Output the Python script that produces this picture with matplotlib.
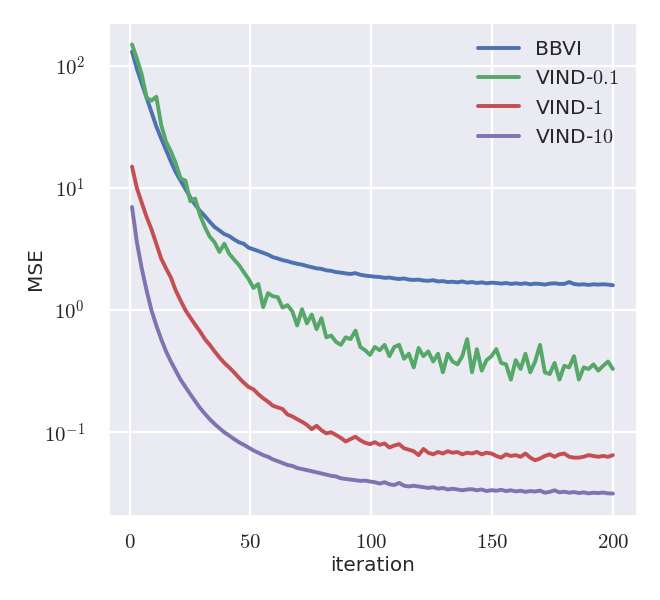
import numpy as np
import matplotlib
matplotlib.use("Agg")
import matplotlib.pyplot as plt
import matplotlib.ticker as mticker
import seaborn as sns

# MSE, every second iteration (1, 3, ..., 199 -> 200)
bbvi = [131, 95, 72, 55, 42, 32, 25.5, 20.5, 16.5, 13.5,
        11.5, 9.8, 8.4, 7.3, 6.5, 5.9, 5.3, 4.8, 4.5, 4.2,
        4.05, 3.8, 3.6, 3.5, 3.25, 3.15, 3.05, 2.95, 2.85, 2.72,
        2.65, 2.57, 2.52, 2.45, 2.40, 2.36, 2.30, 2.25, 2.20, 2.18,
        2.12, 2.10, 2.05, 2.03, 2.00, 1.98, 2.01, 1.95, 1.92, 1.90,
        1.88, 1.87, 1.84, 1.85, 1.82, 1.80, 1.82, 1.78, 1.77, 1.78,
        1.75, 1.74, 1.76, 1.72, 1.73, 1.70, 1.71, 1.69, 1.72, 1.68,
        1.70, 1.67, 1.69, 1.66, 1.68, 1.67, 1.65, 1.67, 1.64, 1.66,
        1.64, 1.66, 1.63, 1.65, 1.64, 1.62, 1.65, 1.66, 1.64, 1.64,
        1.70, 1.64, 1.62, 1.63, 1.61, 1.63, 1.62, 1.63, 1.62, 1.60]

vind_01 = [150, 115, 85, 55, 52, 56, 33, 24, 20, 16,
           12, 11.5, 7.8, 8.2, 6.0, 4.8, 4.0, 3.6, 3.0, 3.5,
           2.9, 2.6, 2.35, 2.05, 1.80, 1.52, 1.64, 1.06, 1.38, 1.30,
           1.28, 1.05, 1.10, 0.98, 0.75, 1.02, 0.78, 0.92, 0.70, 0.86,
           0.60, 0.62, 0.55, 0.52, 0.60, 0.58, 0.68, 0.50, 0.47, 0.43,
           0.50, 0.47, 0.52, 0.42, 0.50, 0.52, 0.40, 0.44, 0.34, 0.49,
           0.42, 0.46, 0.38, 0.44, 0.31, 0.44, 0.38, 0.36, 0.42, 0.58,
           0.31, 0.48, 0.32, 0.39, 0.42, 0.48, 0.37, 0.36, 0.27, 0.39,
           0.33, 0.44, 0.31, 0.38, 0.52, 0.31, 0.30, 0.37, 0.27, 0.35,
           0.34, 0.42, 0.27, 0.34, 0.33, 0.36, 0.32, 0.35, 0.38, 0.33]

vind_1 = [15.0, 10.0, 7.6, 5.8, 4.6, 3.5, 2.65, 2.2, 1.85, 1.45,
          1.2, 1.0, 0.87, 0.76, 0.67, 0.58, 0.52, 0.46, 0.41, 0.37,
          0.34, 0.31, 0.28, 0.255, 0.235, 0.225, 0.205, 0.19, 0.178, 0.165,
          0.160, 0.155, 0.140, 0.135, 0.128, 0.122, 0.115, 0.106, 0.113, 0.104,
          0.098, 0.100, 0.095, 0.090, 0.084, 0.088, 0.092, 0.086, 0.082, 0.080,
          0.083, 0.079, 0.081, 0.075, 0.078, 0.080, 0.074, 0.072, 0.070, 0.065,
          0.073, 0.068, 0.066, 0.069, 0.067, 0.070, 0.068, 0.069, 0.066, 0.068,
          0.067, 0.069, 0.066, 0.068, 0.067, 0.064, 0.062, 0.066, 0.064, 0.065,
          0.063, 0.067, 0.062, 0.059, 0.061, 0.064, 0.066, 0.063, 0.066, 0.067,
          0.063, 0.062, 0.062, 0.063, 0.065, 0.064, 0.063, 0.064, 0.063, 0.065]

vind_10 = [7.0, 3.6, 2.2, 1.45, 1.0, 0.75, 0.58, 0.46, 0.38, 0.32,
           0.27, 0.235, 0.205, 0.180, 0.158, 0.142, 0.128, 0.117, 0.108, 0.100,
           0.094, 0.088, 0.083, 0.079, 0.075, 0.071, 0.068, 0.065, 0.063, 0.060,
           0.058, 0.056, 0.054, 0.053, 0.051, 0.050, 0.049, 0.048, 0.047, 0.046,
           0.045, 0.044, 0.0435, 0.042, 0.0415, 0.041, 0.0405, 0.040, 0.0402, 0.0395,
           0.039, 0.038, 0.039, 0.0375, 0.037, 0.0385, 0.0365, 0.036, 0.0365, 0.036,
           0.0355, 0.035, 0.0355, 0.0345, 0.035, 0.034, 0.0345, 0.034, 0.0335, 0.034,
           0.0342, 0.0335, 0.034, 0.033, 0.0336, 0.0332, 0.0338, 0.033, 0.0335, 0.0328,
           0.0332, 0.0325, 0.033, 0.0327, 0.0333, 0.032, 0.0325, 0.0335, 0.0322, 0.0326,
           0.032, 0.0324, 0.0318, 0.0322, 0.0316, 0.032, 0.0318, 0.0321, 0.0316, 0.0315]

iterations = np.linspace(1, 200, len(bbvi))

series = [("BBVI", bbvi, "#4C72B0"),
          ("VIND-$0.1$", vind_01, "#55A868"),
          ("VIND-$1$", vind_1, "#C44E52"),
          ("VIND-$10$", vind_10, "#8172B2")]

sns.set_theme(context="paper", style="darkgrid")
plt.rcParams["mathtext.fontset"] = "cm"
plt.rcParams["font.family"] = ["DejaVu Sans"]

fig = plt.figure(figsize=(3.3, 3.0), dpi=200)
ax = fig.add_axes([0.1636, 0.14, 0.8014, 0.8233])

for name, vals, col in series:
    ax.plot(iterations, vals, color=col, lw=1.4, label=name)

ax.set_yscale("log")
ax.set_xticks([0, 50, 100, 150, 200])
ax.xaxis.set_major_formatter(mticker.FuncFormatter(lambda v, p: r"$%d$" % v))
ax.yaxis.set_major_formatter(mticker.FuncFormatter(lambda v, p: r"$10^{%d}$" % round(np.log10(v))))
ax.yaxis.set_minor_locator(mticker.NullLocator())
ax.tick_params(labelsize=7.5)
ax.tick_params(axis="x", pad=0.8)
ax.set_xlabel("iteration", fontsize=7.2, labelpad=1.6)
ax.set_ylabel("MSE", fontsize=7.2, labelpad=-0.6)
ax.legend(loc="upper right", frameon=False, fontsize=7.3)

fig.savefig("out.png", dpi=200)
